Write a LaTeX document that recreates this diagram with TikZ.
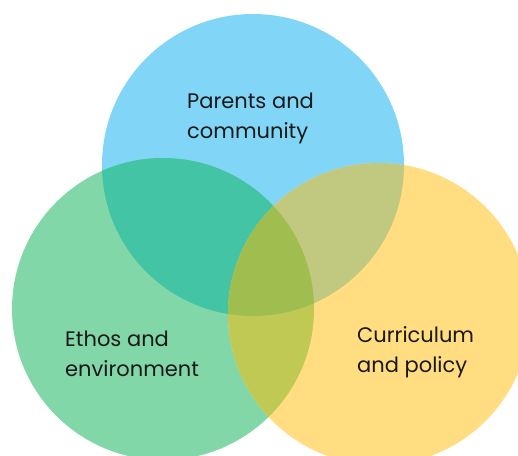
\documentclass[tikz,border=0pt]{standalone}
\usepackage{fontspec}
\setmainfont{Poppins}
\definecolor{pblue}{HTML}{81D6F7}
\definecolor{egreen}{HTML}{81D7A8}
\definecolor{cyellow}{HTML}{FFDD80}
\definecolor{bgmix}{HTML}{43C4A4}
\definecolor{bymix}{HTML}{C1C980}
\definecolor{gymix}{HTML}{C1C955}
\definecolor{allmix}{HTML}{A0BE4F}

\begin{document}
\begin{tikzpicture}[x=1pt, y=-1pt,
  venntext/.style={anchor=base west, align=left, inner sep=0pt,
    font=\fontsize{21}{30}\selectfont, text=black!90}]
  \useasboundingbox (0,0) rectangle (518,455);
  \coordinate (pc) at (253,165);
  \coordinate (ec) at (163,309);
  \coordinate (cc) at (379,314);
  % circles
  \fill[pblue] (pc) circle (151);
  \fill[egreen] (ec) circle (151);
  \fill[cyellow] (cc) circle (151);
  % overlaps
  \begin{scope}
    \clip (pc) circle (151);
    \fill[bgmix] (ec) circle (151);
    \fill[bymix] (cc) circle (151);
  \end{scope}
  \begin{scope}
    \clip (ec) circle (151);
    \fill[gymix] (cc) circle (151);
    \clip (pc) circle (151);
    \fill[allmix] (cc) circle (151);
  \end{scope}
  % labels (base = last line)
  \node[venntext] (parents) at (187,138) {Parents and\\community};
  \node[venntext] (ethos) at (65,376) {Ethos and\\environment};
  \node[venntext] (curric) at (357,372) {Curriculum\\and policy};
\end{tikzpicture}
\end{document}
